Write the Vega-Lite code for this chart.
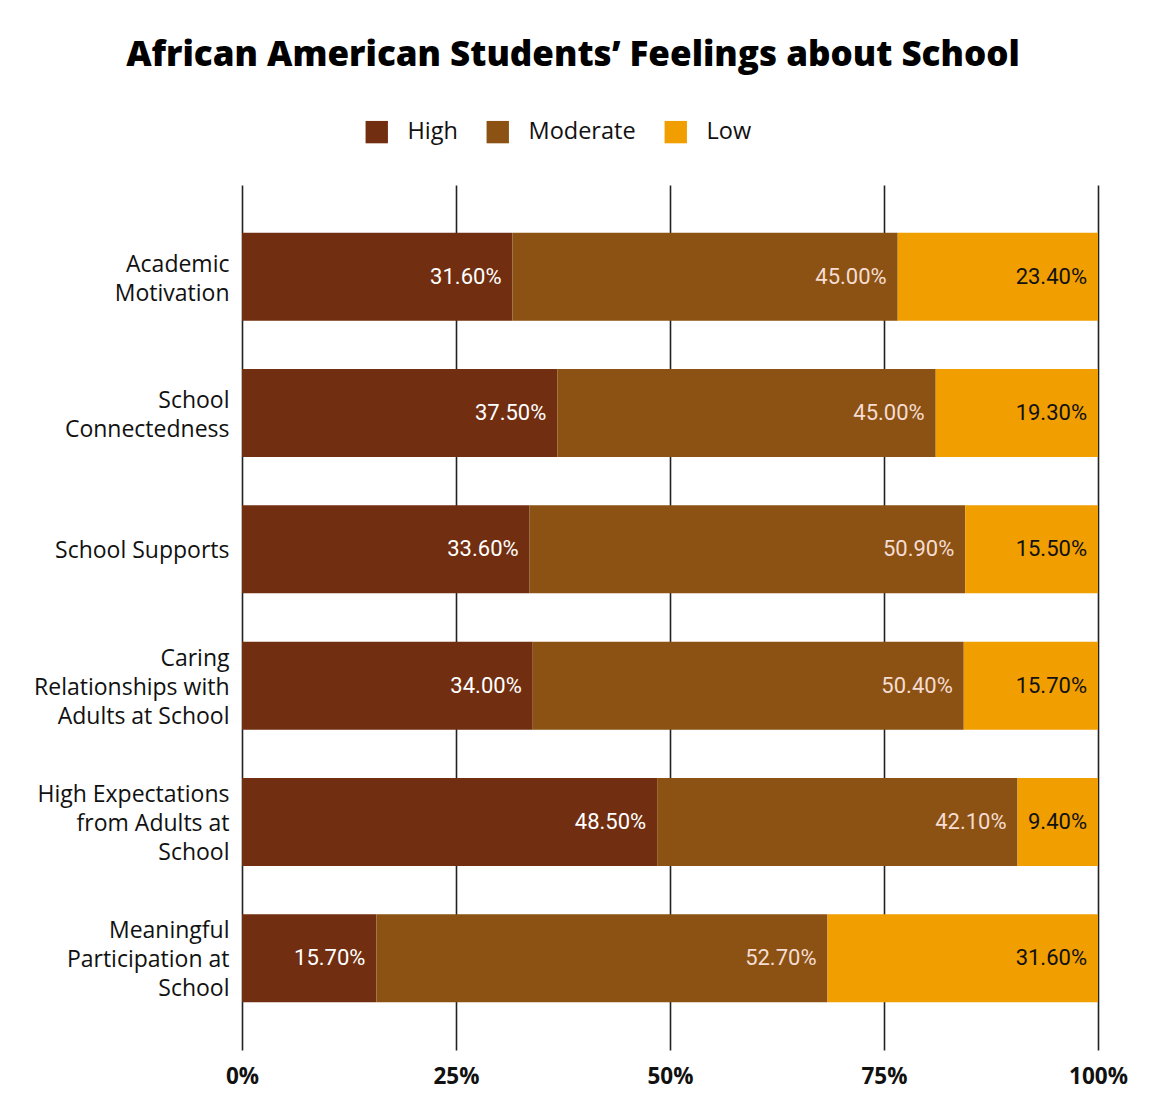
{
  "$schema": "https://vega.github.io/schema/vega-lite/v6.json",
  "width": 856,
  "height": 865,
  "autosize": {"type": "none"},
  "padding": {"left": 242, "top": 185, "right": 62, "bottom": 56},
  "background": "white",
  "title": {
    "text": "African American Students’ Feelings about School",
    "anchor": "middle",
    "dx": -97,
    "offset": 47,
    "fontSize": 35,
    "font": "Open Sans",
    "fontWeight": 800,
    "color": "#000000"
  },
  "data": {
    "values": [
      {"cat": "Academic|Motivation", "level": "High", "rank": 1, "value": 0.316},
      {"cat": "Academic|Motivation", "level": "Moderate", "rank": 2, "value": 0.45},
      {"cat": "Academic|Motivation", "level": "Low", "rank": 3, "value": 0.234},
      {"cat": "School|Connectedness", "level": "High", "rank": 1, "value": 0.375},
      {"cat": "School|Connectedness", "level": "Moderate", "rank": 2, "value": 0.45},
      {"cat": "School|Connectedness", "level": "Low", "rank": 3, "value": 0.193},
      {"cat": "School Supports", "level": "High", "rank": 1, "value": 0.336},
      {"cat": "School Supports", "level": "Moderate", "rank": 2, "value": 0.509},
      {"cat": "School Supports", "level": "Low", "rank": 3, "value": 0.155},
      {"cat": "Caring|Relationships with|Adults at School", "level": "High", "rank": 1, "value": 0.34},
      {"cat": "Caring|Relationships with|Adults at School", "level": "Moderate", "rank": 2, "value": 0.504},
      {"cat": "Caring|Relationships with|Adults at School", "level": "Low", "rank": 3, "value": 0.157},
      {"cat": "High Expectations|from Adults at|School", "level": "High", "rank": 1, "value": 0.485},
      {"cat": "High Expectations|from Adults at|School", "level": "Moderate", "rank": 2, "value": 0.421},
      {"cat": "High Expectations|from Adults at|School", "level": "Low", "rank": 3, "value": 0.094},
      {"cat": "Meaningful|Participation at|School", "level": "High", "rank": 1, "value": 0.157},
      {"cat": "Meaningful|Participation at|School", "level": "Moderate", "rank": 2, "value": 0.527},
      {"cat": "Meaningful|Participation at|School", "level": "Low", "rank": 3, "value": 0.316}
    ]
  },
  "transform": [
    {"stack": "value", "groupby": ["cat"], "sort": [{"field": "rank", "order": "ascending"}], "as": ["x0", "x1"], "offset": "normalize"}
  ],
  "encoding": {
    "y": {
      "field": "cat",
      "type": "nominal",
      "sort": ["Academic|Motivation", "School|Connectedness", "School Supports", "Caring|Relationships with|Adults at School", "High Expectations|from Adults at|School", "Meaningful|Participation at|School"],
      "scale": {"paddingInner": 0.355, "paddingOuter": 0.35},
      "axis": {
        "title": null,
        "labelExpr": "split(datum.label, '|')",
        "labelFont": "Open Sans",
        "labelFontWeight": 500,
        "labelFontSize": 23,
        "labelLineHeight": 29,
        "labelColor": "#111111",
        "labelAlign": "right",
        "labelBaseline": "middle",
        "labelOffset": {
          "condition": [
            {"test": "length(split(datum.value, '|')) == 3", "value": -27},
            {"test": "length(split(datum.value, '|')) == 2", "value": -12}
          ],
          "value": 2
        },
        "labelPadding": 13,
        "labelLimit": 400,
        "ticks": false,
        "domain": false,
        "grid": false
      }
    }
  },
  "layer": [
    {
      "mark": {"type": "bar"},
      "encoding": {
        "x": {
          "field": "x0",
          "type": "quantitative",
          "scale": {"domain": [0, 1], "nice": false},
          "axis": {
            "title": null,
            "values": [0, 0.25, 0.5, 0.75, 1],
            "format": ".0%",
            "grid": true,
            "gridColor": "#222222",
            "gridWidth": 1.6,
            "gridOpacity": 1,
            "domain": false,
            "ticks": false,
            "labelFlush": false,
            "labelFont": "Open Sans",
            "labelFontWeight": "bold",
            "labelFontSize": 22.5,
            "labelColor": "#111111",
            "labelPadding": 15
          }
        },
        "x2": {"field": "x1"},
        "color": {
          "field": "level",
          "type": "nominal",
          "scale": {"domain": ["High", "Moderate", "Low"], "range": ["#722E10", "#8B5213", "#F09E00"]},
          "legend": {
            "title": null,
            "orient": "none",
            "direction": "horizontal",
            "legendX": 123,
            "legendY": -65,
            "padding": 0,
            "symbolType": "square",
            "symbolSize": 500,
            "symbolStrokeWidth": 0,
            "labelFont": "Open Sans",
            "labelFontWeight": 500,
            "labelFontSize": 23.5,
            "labelColor": "#111111",
            "labelOffset": 19,
            "columnPadding": 28
          }
        }
      }
    },
    {
      "mark": {"type": "text", "align": "right", "baseline": "middle", "dx": -11, "font": "Roboto", "fontSize": 22},
      "encoding": {
        "x": {"field": "x1", "type": "quantitative"},
        "text": {"field": "value", "type": "quantitative", "format": ".2%"},
        "color": {
          "field": "level",
          "type": "nominal",
          "scale": {"domain": ["High", "Moderate", "Low"], "range": ["#FFFFFF", "#F6DCD2", "#111111"]},
          "legend": null
        }
      }
    }
  ],
  "resolve": {"scale": {"color": "independent"}},
  "config": {"view": {"stroke": null}}
}
